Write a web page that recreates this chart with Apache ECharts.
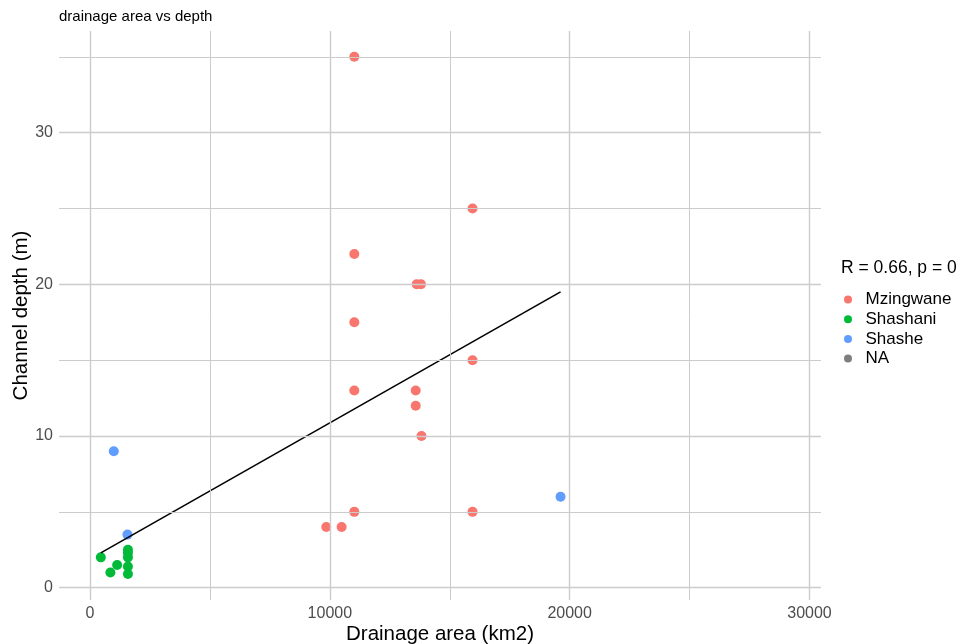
<!DOCTYPE html>
<html>
<head>
<meta charset="utf-8">
<script src="https://cdn.jsdelivr.net/npm/echarts@6/dist/echarts.min.js"></script>
<style>
  html, body { margin: 0; padding: 0; background: #fff; }
  #chart { width: 960px; height: 644px; }
</style>
</head>
<body>
<div id="chart"></div>
<script>
// data
const mzingwaneX = [11020, 15950, 11020, 13620, 13800, 11020, 15950, 11020, 13580, 13580, 13820, 11020, 15950, 9850, 10490];
const mzingwaneY = [35, 25, 22, 20, 20, 17.5, 15, 13, 13, 12, 10, 5, 5, 4, 4];
const shashaniX = [450, 1130, 850, 1580, 1580, 1580, 1580, 1580];
const shashaniY = [2, 1.5, 1, 2.5, 2.3, 2.0, 1.4, 0.9];
const shasheX = [990, 1560, 19620];
const shasheY = [9, 3.5, 6];

// fitted line (lm) end points, as drawn in the picture
const fitX = [450, 19620];
const fitY = [2.3, 19.5];

const xMajor = [0, 10000, 20000, 30000];
const xMinor = [5000, 15000, 25000];
const yMajor = [0, 10, 20, 30];
const yMinor = [5, 15, 25, 35];

const legendTitle = 'R = 0.66, p = 0';
const groups = ['Mzingwane', 'Shashani', 'Shashe', 'NA'];
const colors = ['#F8766D', '#00BA38', '#619CFF', '#7F7F7F'];

const font = 'Liberation Sans, Arial, Helvetica, sans-serif';
const gridColor = '#cccccc';

function pairs(xs, ys) {
    return xs.map((x, i) => [x, ys[i]]);
}

// gridlines drawn as mark lines so that they sit on the real values
const gridLines = [
    ...xMajor.map(v => ({ xAxis: v, lineStyle: { width: 1.4 } })),
    ...xMinor.map(v => ({ xAxis: v, lineStyle: { width: 1 } })),
    ...yMajor.map(v => ({ yAxis: v, lineStyle: { width: 1.4 } })),
    ...yMinor.map(v => ({ yAxis: v, lineStyle: { width: 1 } }))
];

const chart = echarts.init(document.getElementById('chart'));

chart.setOption({
    animation: false,
    textStyle: { fontFamily: font },
    title: [
        {
            text: 'drainage area vs depth',
            left: 59, top: 9, padding: 0,
            textStyle: { fontSize: 15, fontWeight: 'normal', color: '#000' }
        },
        {
            text: legendTitle,
            left: 836, top: 254,
            textStyle: { fontSize: 17.5, fontWeight: 'normal', color: '#000' }
        }
    ],
    legend: {
        data: groups,
        orient: 'vertical',
        left: 839, top: 286,
        icon: 'circle',
        itemWidth: 25, itemHeight: 8,
        itemGap: 2.7,
        textStyle: { fontSize: 17, color: '#000' },
        selectedMode: false
    },
    grid: { left: 59, right: 139, top: 31, bottom: 44, outerBoundsMode: 'none', containLabel: false },
    xAxis: {
        type: 'value',
        min: -1294, max: 30480,
        name: 'Drainage area (km2)',
        nameLocation: 'middle',
        nameGap: 24,
        nameMoveOverlap: false,
        nameTextStyle: { fontSize: 20.5, color: '#000' },
        axisLine: { show: false },
        axisTick: { show: false },
        splitLine: { show: false },
        axisLabel: {
            customValues: xMajor,
            formatter: v => String(v),
            fontSize: 16, color: '#4d4d4d', margin: 6
        }
    },
    yAxis: {
        type: 'value',
        min: -0.81, max: 36.7,
        name: 'Channel depth (m)',
        nameLocation: 'middle',
        nameGap: 27,
        nameMoveOverlap: false,
        nameTextStyle: { fontSize: 20.5, color: '#000' },
        axisLine: { show: false },
        axisTick: { show: false },
        splitLine: { show: false },
        axisLabel: {
            customValues: yMajor,
            formatter: v => String(v),
            fontSize: 16, color: '#4d4d4d', margin: 6
        }
    },
    series: [
        {
            name: 'grid',
            type: 'scatter',
            data: [],
            z: 0,
            silent: true,
            markLine: {
                silent: true,
                symbol: 'none',
                label: { show: false },
                lineStyle: { color: gridColor, type: 'solid' },
                emphasis: { disabled: true },
                data: gridLines
            }
        },
        {
            name: 'fit',
            type: 'line',
            data: pairs(fitX, fitY),
            showSymbol: false,
            lineStyle: { color: '#000', width: 1.6 },
            z: 3
        },
        {
            name: 'Mzingwane', type: 'scatter', symbolSize: 10,
            itemStyle: { color: colors[0], opacity: 1 },
            data: pairs(mzingwaneX, mzingwaneY), z: 2
        },
        {
            name: 'Shashani', type: 'scatter', symbolSize: 10,
            itemStyle: { color: colors[1], opacity: 1 },
            data: pairs(shashaniX, shashaniY), z: 2
        },
        {
            name: 'Shashe', type: 'scatter', symbolSize: 10,
            itemStyle: { color: colors[2], opacity: 1 },
            data: pairs(shasheX, shasheY), z: 2
        },
        {
            name: 'NA', type: 'scatter', symbolSize: 10,
            itemStyle: { color: colors[3], opacity: 1 },
            data: [], z: 2
        }
    ]
});
</script>
</body>
</html>
